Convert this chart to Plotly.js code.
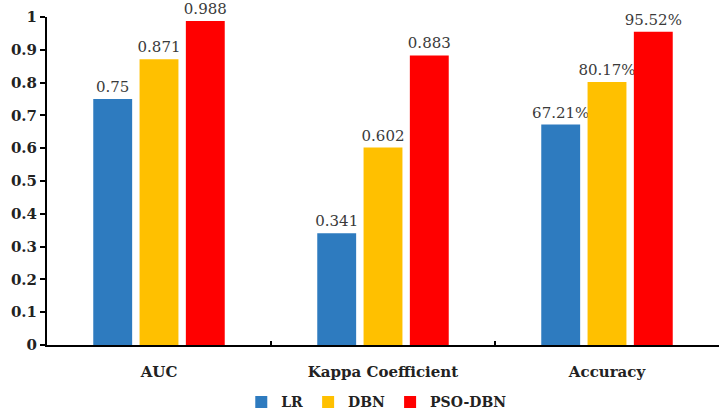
<!DOCTYPE html>
<html>
<head>
<meta charset="utf-8">
<script src="https://cdn.plot.ly/plotly-3.0.1.min.js"></script>
<style>
  html, body { margin: 0; padding: 0; background: #fff; }
  #chart { width: 720px; height: 419px; }
</style>
</head>
<body>
<div id="chart"></div>
<script>
// metrics on the x axis
var categories = ['AUC', 'Kappa Coefficient', 'Accuracy'];

// values per model (accuracy shown as percent in labels)
var lrValues = [0.75, 0.341, 0.6721];
var dbnValues = [0.871, 0.602, 0.8017];
var psoDbnValues = [0.988, 0.883, 0.9552];

var lrLabels = ['0.75', '0.341', '67.21%'];
var dbnLabels = ['0.871', '0.602', '80.17%'];
var psoDbnLabels = ['0.988', '0.883', '95.52%'];

var yTicks = [0, 0.1, 0.2, 0.3, 0.4, 0.5, 0.6, 0.7, 0.8, 0.9, 1];
var yTickText = ['0', '0.1', '0.2', '0.3', '0.4', '0.5', '0.6', '0.7', '0.8', '0.9', '1'];

// Liberation Serif did not render here, DejaVu Serif does
var serif = 'DejaVu Serif';

function makeBar(name, values, labels, color) {
  return {
    type: 'bar',
    name: name,
    x: categories,
    y: values,
    text: labels,
    textposition: 'outside',
    constraintext: 'none',
    cliponaxis: false,
    textfont: { family: serif, size: 15, color: '#3a3a3a' },
    marker: { color: color, line: { width: 0 } },
    hoverinfo: 'x+y'
  };
}

var data = [
  makeBar('LR', lrValues, lrLabels, '#2e7bbf'),
  makeBar('DBN', dbnValues, dbnLabels, '#ffc000'),
  makeBar('PSO-DBN', psoDbnValues, psoDbnLabels, '#ff0000')
];

var layout = {
  width: 720,
  height: 419,
  margin: { l: 47, r: 1, t: 17, b: 70 },
  paper_bgcolor: '#fff',
  plot_bgcolor: '#fff',
  font: { family: serif },
  barmode: 'group',
  bargap: 0.38,
  bargroupgap: 0.16,
  showlegend: true,
  legend: {
    orientation: 'h',
    x: 0.49, xanchor: 'center',
    y: -0.175, yanchor: 'middle',
    font: { family: serif, size: 14, color: '#222', weight: 'bold' },
    itemwidth: 30,
    traceorder: 'normal'
  },
  xaxis: {
    type: 'category',
    showline: true,
    linecolor: '#000',
    linewidth: 2,
    ticks: 'inside',
    tickson: 'boundaries',
    ticklen: 4,
    tickwidth: 2,
    tickcolor: '#000',
    ticklabelstandoff: 12,
    tickfont: { family: serif, size: 15, color: '#222', weight: 'bold' },
    showgrid: false,
    zeroline: false
  },
  yaxis: {
    range: [0, 1],
    tickvals: yTicks,
    ticktext: yTickText,
    showline: true,
    linecolor: '#000',
    linewidth: 2,
    ticks: 'outside',
    ticklen: 5,
    tickwidth: 2,
    tickcolor: '#000',
    tickfont: { family: serif, size: 15, color: '#222', weight: 'bold' },
    showgrid: false,
    zeroline: false
  }
};

Plotly.newPlot('chart', data, layout, { displayModeBar: false, staticPlot: true });
</script>
</body>
</html>
